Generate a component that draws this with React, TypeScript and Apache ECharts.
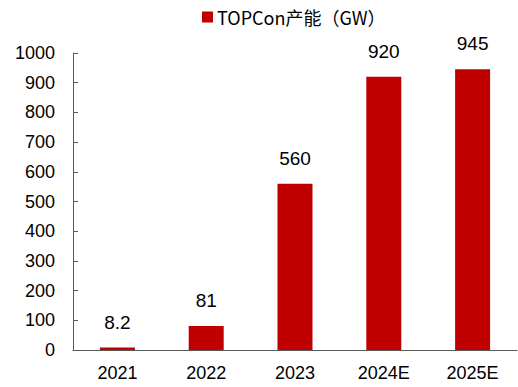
import React, { useEffect, useRef } from "react";
import * as echarts from "echarts";

const categories = ["2021", "2022", "2023", "2024E", "2025E"];
const capacity = [8.2, 81, 560, 920, 945];
const seriesName = "TOPCon产能（GW）";

export default function App() {
  const ref = useRef<HTMLDivElement>(null);
  useEffect(() => {
    document.body.style.margin = "0";
    const chart = echarts.init(ref.current!, null, { renderer: "svg" });
    const font = "'Liberation Sans', 'Noto Sans CJK SC', sans-serif";
    chart.setOption({
      animation: false,
      textStyle: { fontFamily: font },
      legend: {
        data: [seriesName],
        top: 3,
        left: 197,
        itemWidth: 11,
        itemHeight: 11,
        itemGap: 5,
        icon: "rect",
        textStyle: { fontSize: 18, color: "#000", fontFamily: "'Noto Sans CJK SC', sans-serif", padding: [0, 0, 0, -1] },
      },
      grid: { left: 73, right: 1, top: 53, bottom: 37, containLabel: false },
      xAxis: {
        type: "category",
        data: categories,
        axisLine: { lineStyle: { color: "#595959", width: 1 } },
        axisTick: { inside: true, length: 5, alignWithLabel: false, lineStyle: { color: "#595959" } },
        axisLabel: { fontSize: 18, color: "#000", margin: 14 },
      },
      yAxis: {
        type: "value",
        min: 0,
        max: 1000,
        interval: 100,
        splitLine: { show: false },
        axisLine: { show: true, lineStyle: { color: "#595959", width: 1 } },
        axisTick: { show: true, inside: true, length: 5, lineStyle: { color: "#595959" } },
        axisLabel: { fontSize: 18, color: "#000", margin: 18, formatter: (v: number) => String(v) },
      },
      series: [
        {
          name: seriesName,
          type: "bar",
          data: capacity,
          barWidth: 35,
          itemStyle: { color: "#C00000" },
          label: {
            show: true,
            position: "top",
            distance: 16,
            fontSize: 19,
            color: "#000",
          },
        },
      ],
    });
    return () => chart.dispose();
  }, []);
  return <div ref={ref} style={{ width: 518, height: 387 }} />;
}
